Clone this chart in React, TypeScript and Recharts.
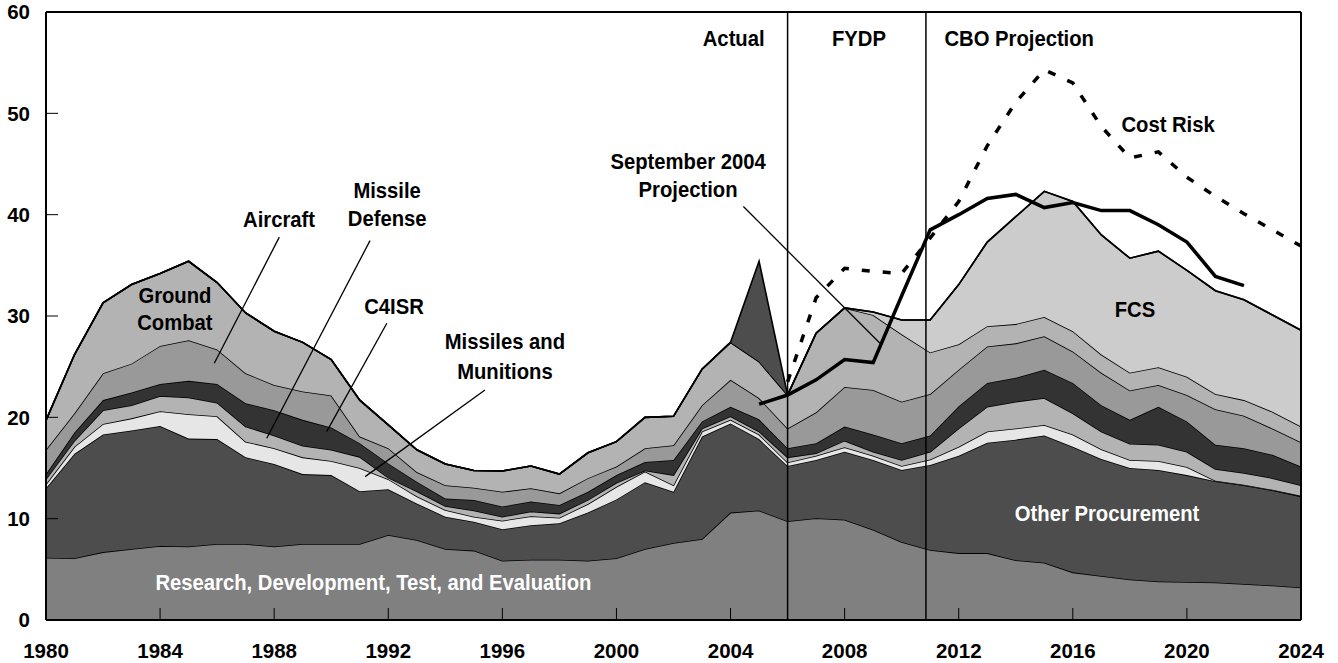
import { ComposedChart, Area, Line, XAxis, YAxis, ReferenceLine, ReferenceDot } from 'recharts';

const years = [
  1980, 1981, 1982, 1983, 1984, 1985, 1986, 1987, 1988, 1989,
  1990, 1991, 1992, 1993, 1994, 1995, 1996, 1997, 1998, 1999,
  2000, 2001, 2002, 2003, 2004, 2005, 2006, 2007, 2008, 2009,
  2010, 2011, 2012, 2013, 2014, 2015, 2016, 2017, 2018, 2019,
  2020, 2021, 2022, 2023, 2024,
];

// stacked layers, bottom to top (billions of dollars)
const rdte = [
  6.15, 6.1, 6.7, 7.0, 7.3, 7.25, 7.5, 7.5, 7.25, 7.5,
  7.5, 7.5, 8.4, 7.9, 7.0, 6.85, 5.85, 5.95, 5.95, 5.85,
  6.1, 7.0, 7.6, 8.0, 10.6, 10.8, 9.75, 10.05, 9.9, 8.9,
  7.7, 6.9, 6.6, 6.6, 5.9, 5.65, 4.7, 4.35, 4.0, 3.8,
  3.75, 3.7, 3.55, 3.4, 3.2,
];
const otherProcurement = [
  6.85, 10.3, 11.6, 11.7, 11.85, 10.65, 10.35, 8.55, 8.15, 6.9,
  6.8, 5.2, 4.5, 3.6, 3.2, 2.85, 3.1, 3.4, 3.6, 4.75,
  5.8, 6.6, 5.05, 10.1, 8.8, 7.05, 5.45, 5.75, 6.7, 6.9,
  7.1, 8.4, 9.6, 10.9, 11.9, 12.55, 12.4, 11.55, 11.0, 11.0,
  10.55, 10.0, 9.75, 9.4, 9.0,
];
const missiles = [
  0.4, 0.7, 1.05, 1.2, 1.45, 2.4, 2.25, 1.55, 1.55, 1.65,
  1.4, 2.3, 1.0, 0.7, 0.65, 0.5, 0.85, 0.9, 0.55, 0.85,
  1.25, 1.05, 0.65, 0.5, 0.35, 0.45, 0.35, 0.4, 0.45, 0.4,
  0.4, 0.55, 0.9, 1.1, 1.1, 1.05, 1.2, 0.95, 0.8, 0.9,
  0.8, 0.05, 0.05, 0.05, 0.05,
];
const missileDefense = [
  0.5, 0.6, 1.35, 1.3, 1.5, 1.65, 1.35, 1.5, 1.25, 1.15,
  1.1, 1.1, 0.15, 0.5, 0.4, 0.6, 0.4, 0.45, 0.4, 0.4,
  0.4, 0.1, 1.0, 0.3, 0.35, 0.3, 0.5, 0.25, 0.65, 0.4,
  0.6, 0.75, 1.8, 2.45, 2.65, 2.65, 2.1, 1.75, 1.6, 1.6,
  1.5, 1.15, 1.15, 1.15, 1.05,
];
const c4isr = [
  0.5, 0.8, 1.0, 1.25, 1.2, 1.65, 1.85, 2.3, 2.5, 2.55,
  2.2, 1.35, 1.4, 0.95, 0.75, 1.05, 1.0, 1.0, 0.85, 0.8,
  0.75, 0.85, 1.5, 0.7, 0.95, 1.2, 0.9, 1.0, 1.4, 1.7,
  1.65, 1.6, 2.2, 2.35, 2.35, 2.8, 3.0, 2.6, 2.35, 3.75,
  3.0, 2.4, 2.45, 2.3, 1.85,
];
const aircraft = [
  2.4, 1.9, 2.65, 2.85, 3.75, 4.0, 3.4, 2.95, 2.5, 2.8,
  3.15, 0.65, 1.5, 0.95, 1.3, 1.2, 1.45, 1.3, 1.15, 1.35,
  0.85, 1.35, 1.45, 1.6, 2.65, 2.1, 1.95, 3.05, 3.9, 4.4,
  4.1, 4.1, 3.6, 3.6, 3.4, 3.3, 3.1, 3.2, 2.9, 2.15,
  2.6, 3.5, 3.2, 2.6, 2.4,
];
const groundCombat = [
  2.9, 5.8, 6.95, 7.8, 7.15, 7.8, 6.6, 5.95, 5.3, 4.85,
  3.55, 3.6, 2.3, 2.2, 2.1, 1.7, 2.05, 2.2, 1.9, 2.5,
  2.45, 3.05, 2.85, 3.55, 3.7, 3.6, 3.3, 7.8, 7.8, 7.4,
  6.65, 4.1, 2.5, 2.0, 1.9, 1.9, 2.0, 1.8, 1.75, 1.75,
  1.8, 1.5, 1.55, 1.65, 1.55,
];
const fcs = [
  0, 0, 0, 0, 0, 0, 0, 0, 0, 0,
  0, 0, 0, 0, 0, 0, 0, 0, 0, 0,
  0, 0, 0, 0, 0, 0, 0, 0, 0, 0.3,
  1.4, 3.2, 5.9, 8.3, 10.6, 12.4, 12.8, 11.8, 11.3, 11.45,
  10.5, 10.2, 9.9, 9.55, 9.5,
];
const supplemental = [
  0, 0, 0, 0, 0, 0, 0, 0, 0, 0,
  0, 0, 0, 0, 0, 0, 0, 0, 0, 0,
  0, 0, 0, 0, 0, 9.9, 0, 0, 0, 0,
  0, 0, 0, 0, 0, 0, 0, 0, 0, 0,
  0, 0, 0, 0, 0,
];

// totals lines
const sept2004Projection = [
  null, null, null, null, null, null, null, null, null, null,
  null, null, null, null, null, null, null, null, null, null,
  null, null, null, null, null, 21.3, 22.2, 23.7, 25.7, 25.4,
  32.0, 38.5, 40.0, 41.6, 42.0, 40.7, 41.2, 40.4, 40.4, 39.0,
  37.3, 33.9, 33.0, null, null,
];
const costRisk = [
  null, null, null, null, null, null, null, null, null, null,
  null, null, null, null, null, null, null, null, null, null,
  null, null, null, null, null, null, 23.5, 31.8, 34.7, 34.4,
  34.2, 37.7, 41.3, 46.8, 51.1, 54.3, 53.0, 48.7, 45.6, 46.2,
  43.7, 41.8, 40.1, 38.5, 36.9,
];

const xTicks = [1980, 1984, 1988, 1992, 1996, 2000, 2004, 2008, 2012, 2016, 2020, 2024];
const yTicks = [0, 10, 20, 30, 40, 50, 60];

const data = years.map((year, i) => ({
  year,
  rdte: rdte[i],
  otherProcurement: otherProcurement[i],
  missiles: missiles[i],
  missileDefense: missileDefense[i],
  c4isr: c4isr[i],
  aircraft: aircraft[i],
  groundCombat: groundCombat[i],
  fcs: fcs[i],
  supplemental: supplemental[i],
  sept2004Projection: sept2004Projection[i],
  costRisk: costRisk[i],
}));

const FONT = "'Liberation Sans', Arial, sans-serif";

// text annotations, placed in data coordinates
const labels = [
  { x: 1984.52, y: 31.98, text: 'Ground' },
  { x: 1984.52, y: 29.32, text: 'Combat' },
  { x: 1988.17, y: 39.49, text: 'Aircraft' },
  { x: 1991.96, y: 42.35, text: 'Missile' },
  { x: 1991.96, y: 39.59, text: 'Defense' },
  { x: 1992.2, y: 30.9, text: 'C4ISR' },
  { x: 1996.09, y: 27.44, text: 'Missiles and' },
  { x: 1996.09, y: 24.48, text: 'Munitions' },
  { x: 2002.51, y: 45.21, text: 'September 2004' },
  { x: 2002.51, y: 42.45, text: 'Projection' },
  { x: 2004.11, y: 57.35, text: 'Actual' },
  { x: 2008.5, y: 57.35, text: 'FYDP' },
  { x: 2014.12, y: 57.35, text: 'CBO Projection' },
  { x: 2019.34, y: 48.86, text: 'Cost Risk' },
  { x: 2018.18, y: 30.6, text: 'FCS' },
  { x: 2017.2, y: 10.46, text: 'Other Procurement', fill: '#fff' },
  { x: 1991.48, y: 3.65, text: 'Research, Development, Test, and Evaluation', fill: '#fff' },
];

const leaders = [
  [{ x: 1988.18, y: 37.78 }, { x: 1985.9, y: 25.34 }],
  [{ x: 1991.36, y: 37.44 }, { x: 1987.74, y: 17.94 }],
  [{ x: 1991.95, y: 29.29 }, { x: 1989.84, y: 18.59 }],
  [{ x: 1995.39, y: 22.7 }, { x: 1991.19, y: 14.15 }],
  [{ x: 2004.45, y: 40.8 }, { x: 2009.24, y: 27.31 }],
];

const layers = [
  { key: 'rdte', color: '#808080' },
  { key: 'otherProcurement', color: '#4d4d4d' },
  { key: 'missiles', color: '#e6e6e6' },
  { key: 'missileDefense', color: '#b3b3b3' },
  { key: 'c4isr', color: '#333333' },
  { key: 'aircraft', color: '#999999' },
  { key: 'groundCombat', color: '#b3b3b3' },
  { key: 'fcs', color: '#cccccc' },
  { key: 'supplemental', color: '#4d4d4d' },
];

const tickStyle = { fill: '#000', fontSize: 20.5, fontWeight: 700, fontFamily: FONT };

function NarrowText({ x, y, text, fill }: { x: number; y: number; text: string; fill?: string }) {
  return (
    <text
      transform={`translate(${x},${y}) scale(0.9,1)`}
      x={0}
      y={0}
      textAnchor="middle"
      dominantBaseline="central"
      fill={fill || '#000'}
      fontSize={22.5}
      fontWeight={700}
      fontFamily={FONT}
    >
      {text}
    </text>
  );
}

export default function App() {
  return (
    <div style={{ position: 'absolute', left: 0, top: 0 }}>
      <ComposedChart
        width={1338}
        height={663}
        data={data}
        margin={{ top: 12, right: 37, bottom: 0, left: 0 }}
      >
        <XAxis
          dataKey="year"
          type="number"
          domain={[1980, 2024]}
          ticks={xTicks}
          interval={0}
          tickSize={-12}
          tickMargin={35}
          height={43}
          tick={tickStyle}
          axisLine={{ stroke: '#000', strokeWidth: 2 }}
          tickLine={{ stroke: '#000', strokeWidth: 1 }}
        />
        <YAxis
          type="number"
          domain={[0, 60]}
          ticks={yTicks}
          interval={0}
          tickSize={-12}
          tickMargin={28}
          width={46}
          tick={tickStyle}
          axisLine={{ stroke: '#000', strokeWidth: 2 }}
          tickLine={{ stroke: '#000', strokeWidth: 1 }}
        />
        {layers.map((l) => (
          <Area
            key={l.key}
            type="linear"
            dataKey={l.key}
            stackId="1"
            stroke="#000"
            strokeWidth={1.6}
            fill={l.color}
            fillOpacity={1}
            isAnimationActive={false}
            activeDot={false}
          />
        ))}
        <ReferenceLine y={60} stroke="#000" strokeWidth={2} />
        <ReferenceLine x={2024} stroke="#000" strokeWidth={2} />
        <ReferenceLine x={2006} stroke="#000" strokeWidth={1.5} />
        <ReferenceLine x={2010.85} stroke="#000" strokeWidth={1.5} />
        {leaders.map((seg, i) => (
          <ReferenceLine key={i} segment={seg} stroke="#000" strokeWidth={1.3} />
        ))}
        <Line
          type="linear"
          dataKey="sept2004Projection"
          stroke="#000"
          strokeWidth={3.5}
          dot={false}
          activeDot={false}
          isAnimationActive={false}
        />
        <Line
          type="linear"
          dataKey="costRisk"
          stroke="#000"
          strokeWidth={3.5}
          strokeDasharray="8 13"
          dot={false}
          activeDot={false}
          isAnimationActive={false}
        />
        {labels.map((lb) => (
          <ReferenceDot
            key={lb.text}
            x={lb.x}
            y={lb.y}
            r={0}
            shape={(p: any) => <NarrowText x={p.cx} y={p.cy} text={lb.text} fill={lb.fill} />}
          />
        ))}
      </ComposedChart>
    </div>
  );
}
